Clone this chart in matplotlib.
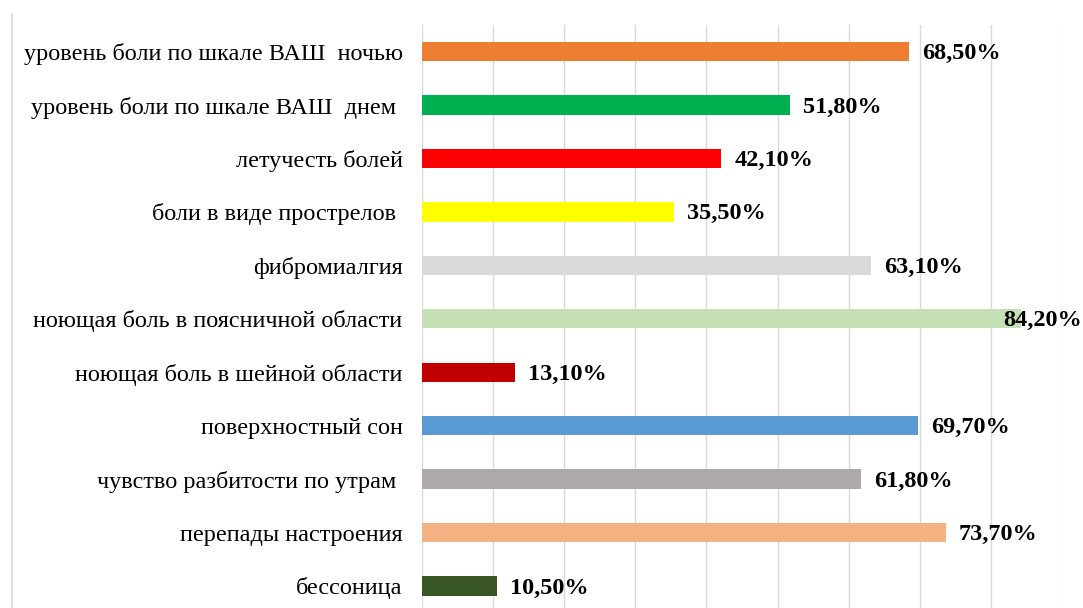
import matplotlib
matplotlib.use("Agg")
import matplotlib.pyplot as plt
from matplotlib.lines import Line2D

categories = [
    "уровень боли по шкале ВАШ  ночью",
    "уровень боли по шкале ВАШ  днем ",
    "летучесть болей",
    "боли в виде прострелов ",
    "фибромиалгия",
    "ноющая боль в поясничной области",
    "ноющая боль в шейной области",
    "поверхностный сон",
    "чувство разбитости по утрам ",
    "перепады настроения",
    "бессоница",
]
values = [0.685, 0.518, 0.421, 0.355, 0.631, 0.842, 0.131, 0.697, 0.618, 0.737, 0.105]
labels = ["68,50%", "51,80%", "42,10%", "35,50%", "63,10%", "84,20%",
          "13,10%", "69,70%", "61,80%", "73,70%", "10,50%"]
colors = ["#ED7D31", "#00B050", "#FF0000", "#FFFF00", "#D9D9D9", "#C5E0B4",
          "#C00000", "#5B9BD5", "#ADA9A9", "#F4B183", "#375623"]

plt.rcParams['font.family'] = ['Liberation Serif', 'DejaVu Serif']

fig = plt.figure(figsize=(10.83, 6.08), dpi=100)
ax = fig.add_axes([422 / 1083, -0.0077, (1062 - 422) / 1083, 0.959 + 0.0077])

y = list(range(len(categories)))
ax.barh(y, values, height=0.36, color=colors, zorder=3)
ax.set_xlim(0, 0.9)
ax.set_ylim(len(categories) - 0.5, -0.5)
ax.set_yticks(y)
ax.set_yticklabels(categories, fontsize=17.5)
ax.set_xticks([i / 10 for i in range(10)])
ax.set_xticklabels([])
ax.tick_params(length=0)
ax.tick_params(axis='y', pad=14)
ax.grid(axis='x', color='#D9D9D9', linewidth=1, zorder=0)
for s in ax.spines.values():
    s.set_visible(False)

for yi, v, lab in zip(y, values, labels):
    off = 13 if v < 0.8 else -18
    ax.annotate(lab, (v, yi), xytext=(off, -2), textcoords='offset pixels',
                va='center', ha='left', fontsize=17.5, fontweight='bold', zorder=4)

fig.add_artist(Line2D([12 / 1083, 12 / 1083], [0, 1 - 14 / 608],
                      transform=fig.transFigure, color='#D9D9D9', linewidth=1.2))

fig.savefig("out.png", dpi=100)
